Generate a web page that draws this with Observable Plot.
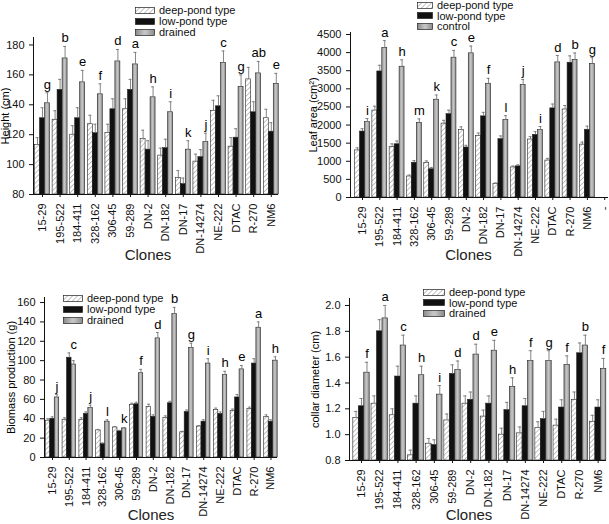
<!DOCTYPE html>
<html><head><meta charset="utf-8">
<script src="https://cdn.jsdelivr.net/npm/d3@7"></script>
<script src="https://cdn.jsdelivr.net/npm/@observablehq/plot@0.6"></script>
<style>
body{margin:0;background:#fff;font-family:"Liberation Sans",Arial,sans-serif;}
#root{position:relative;width:609px;height:524px;overflow:hidden;background:#fff;}
.pl{position:absolute;overflow:visible;}
.lg{position:absolute;font-size:11px;color:#111;white-space:nowrap;display:flex;align-items:center;}
.lg svg{margin-right:4px;overflow:visible;}
</style></head><body>
<svg width="0" height="0" style="position:absolute">
  <defs>
    <pattern id="hatch" width="3.5" height="3.5" patternUnits="userSpaceOnUse" patternTransform="rotate(45)">
      <rect width="3.5" height="3.5" fill="#fff"/>
      <line x1="0" y1="0" x2="0" y2="3.5" stroke="#666" stroke-width="0.8"/>
    </pattern>
    <linearGradient id="grayfill" x1="0" x2="1" y1="0" y2="0">
      <stop offset="0" stop-color="#8a8a8a"/>
      <stop offset="0.45" stop-color="#c4c4c4"/>
      <stop offset="0.55" stop-color="#c4c4c4"/>
      <stop offset="1" stop-color="#8a8a8a"/>
    </linearGradient>
  </defs>
</svg>
<div id="root"></div>
<script>
const clones = ["15-29","195-522","184-411","328-162","306-45","59-289","DN-2","DN-182","DN-17","DN-14274","NE-222","DTAC","R-270","NM6"];
const seriesDrained = ["deep-pond type","low-pond type","drained"];
const seriesControl = ["deep-pond type","low-pond type","control"];

// Height (cm)
const heightDeep    = [113,130,120,127,121,137,117,106,91,102,136,112,157,131];
const heightLow     = [131,150,131,121,137,150,110,111,87,105,139,118,135,122];
const heightDrained = [141,171,155,147,169,167,145,135,110,115,168,152,161,154];
const heightDeepErr    = [5,6,6,6,6,7,6,5,5,5,7,6,8,6];
const heightLowErr     = [7,7,7,6,7,7,6,6,4,5,7,6,7,6];
const heightDrainedErr = [7,8,8,7,8,8,7,7,6,6,8,8,8,7];
const heightLetters = ["g","b","e","f","d","a","h","i","k","j","c","g","ab","e"];

// Leaf area (cm2)
const leafDeep    = [1300,2400,1400,580,950,2040,1860,1700,380,830,1600,1020,2430,1460];
const leafLow     = [1820,3480,1470,960,780,2300,1380,2240,1610,860,1730,2460,3720,1870];
const leafControl = [2080,4130,3610,2060,2700,3860,3980,3140,2140,3110,1860,3730,3800,3690];
const leafDeepErr    = [70,120,80,40,60,90,90,80,20,40,80,60,110,70];
const leafLowErr     = [80,170,90,60,50,110,60,110,90,40,90,120,190,100];
const leafControlErr = [100,200,190,110,130,200,200,150,120,150,100,190,190,170];
const leafLetters = ["i","a","h","m","k","c","e","f","l","j","i","d","b","g"];
const leafExtraTick = ["-"];

// Biomass production (g)
const bioDeep    = [38,39,39,28,31,54,52,41,26,32,49,48,50,42];
const bioLow     = [40,103,45,14,27,55,42,56,47,37,45,62,97,37];
const bioDrained = [62,96,51,37,30,87,123,148,113,97,85,91,134,100];
const bioDeepErr    = [2,2,2,1,1,2,3,2,1,1,2,2,2,2];
const bioLowErr     = [2,5,2,1,1,2,2,2,2,2,2,3,5,2];
const bioDrainedErr = [3,4,3,2,1,4,6,7,5,5,4,4,6,4];
const bioLetters = ["j","c","j","l","k","f","d","b","g","i","h","e","a","h"];

// Collar diameter (cm)
const colDeep    = [1.13,1.24,1.15,0.84,0.93,1.11,1.24,1.14,1.00,1.01,1.05,1.07,1.27,1.10];
const colLow     = [1.22,1.80,1.45,1.24,0.92,1.47,1.27,1.24,1.19,1.22,1.12,1.21,1.63,1.21];
const colDrained = [1.48,1.90,1.69,1.46,1.31,1.50,1.62,1.65,1.37,1.57,1.57,1.54,1.69,1.51];
const colDeepErr    = [0.05,0.06,0.05,0.04,0.04,0.05,0.06,0.05,0.05,0.05,0.05,0.05,0.06,0.05];
const colLowErr     = [0.06,0.09,0.08,0.06,0.04,0.07,0.06,0.06,0.06,0.06,0.06,0.06,0.08,0.06];
const colDrainedErr = [0.08,0.10,0.08,0.07,0.07,0.07,0.08,0.08,0.07,0.08,0.08,0.07,0.08,0.08];
const colLetters = ["f","a","c","h","i","d","d","e","h","f","g","f","b","f"];

const fills = ["url(#hatch)", "#111", "url(#grayfill)"];
const root = document.getElementById("root");

function panel(cfg) {
  const gw = cfg.gw, bw = gw / 3;
  const rows = [];
  cfg.vals.forEach((arr, s) => arr.forEach((v, i) => rows.push({
    i, s, v, e: cfg.errs[s][i],
    x1: i - gw / 2 + s * bw, x2: i - gw / 2 + (s + 1) * bw
  })));
  const letterRows = cfg.letters.map((t, i) => ({
    t, x: i - gw / 2 + 2.5 * bw,
    y: d3.max([0, 1, 2], s => cfg.vals[s][i] + cfg.errs[s][i])
  }));
  const base = cfg.yDomain[0];
  const marks = [];
  fills.forEach((f, s) => marks.push(Plot.rectY(rows.filter(d => d.s === s), {
    x1: "x1", x2: "x2", y1: base, y2: "v", fill: f, stroke: "#222", strokeWidth: 0.6
  })));
  const cx = d => (d.x1 + d.x2) / 2;
  marks.push(Plot.ruleX(rows, {x: cx, y1: "v", y2: d => d.v + d.e, stroke: "#777", strokeWidth: 0.9}));
  marks.push(Plot.ruleY(rows, {y: d => d.v + d.e, x1: d => cx(d) - bw * 0.3, x2: d => cx(d) + bw * 0.3, stroke: "#777", strokeWidth: 0.9}));
  marks.push(Plot.text(letterRows, {x: "x", y: "y", text: "t", dy: -4, lineAnchor: "bottom", fontSize: 13, fill: "black", opacity: 0.99}));
  marks.push(Plot.ruleX([cfg.xDomain[0]], {stroke: "#111"}));
  marks.push(Plot.ruleY([base], {stroke: "#111"}));
  marks.push(Plot.text([cfg.ylabel], {frameAnchor: "left", textAnchor: "middle", lineAnchor: "middle", rotate: -90, dx: cfg.ylDx, fontSize: 11, fill: "black"}));
  marks.push(Plot.text(["Clones"], {frameAnchor: "bottom", textAnchor: "middle", lineAnchor: "middle", dx: cfg.clDx, dy: cfg.clDy, fontSize: 15, fill: "#222", letterSpacing: "0.5px"}));
  const svg = Plot.plot({
    width: cfg.width, height: cfg.height,
    marginLeft: cfg.mL, marginRight: cfg.mR, marginTop: cfg.mT, marginBottom: cfg.mB,
    style: {fontFamily: "Liberation Sans, Arial, sans-serif", fontSize: "11px", background: "transparent", color: "#111", overflow: "visible"},
    x: {type: "linear", domain: cfg.xDomain, ticks: d3.range(cfg.xLabels.length), tickFormat: i => cfg.xLabels[i], tickRotate: -90, tickSize: 3, label: null},
    y: {domain: cfg.yDomain, ticks: cfg.yTicks, tickFormat: cfg.yFormat, tickSize: 4, label: null},
    marks
  });
  svg.classList.add("pl");
  svg.style.left = cfg.left + "px";
  svg.style.top = cfg.top + "px";
  root.appendChild(svg);
}

function legend(x, y0, rowH, swW, swH, labels) {
  labels.forEach((lab, s) => {
    const div = document.createElement("div");
    div.className = "lg";
    div.style.left = x + "px";
    div.style.top = (y0 + s * rowH - 7) + "px";
    div.style.height = "14px";
    div.innerHTML = `<svg width="${swW}" height="${swH}"><rect x="0.5" y="0.5" width="${swW - 1}" height="${swH - 1}" fill="${fills[s]}" stroke="#222" stroke-width="0.7"/></svg><span>${lab}</span>`;
    root.appendChild(div);
  });
}

panel({left: 0, top: 0, width: 300, height: 262, mL: 33, mR: 22, mT: 37, mB: 68,
  xDomain: [-0.511, 13.41], xLabels: clones, gw: 0.85,
  yDomain: [80, 185], yTicks: d3.range(80, 181, 20), yFormat: d3.format("d"),
  vals: [heightDeep, heightLow, heightDrained], errs: [heightDeepErr, heightLowErr, heightDrainedErr],
  letters: heightLetters, ylabel: "Height (cm)", ylDx: -28, clDx: -8, clDy: 61});

panel({left: 305, top: 0, width: 304, height: 262, mL: 45, mR: 1, mT: 32, mB: 65,
  xDomain: [-0.694, 14.22], xLabels: clones.concat(leafExtraTick), gw: 0.86,
  yDomain: [0, 4555], yTicks: d3.range(0, 4501, 500), yFormat: d3.format("d"),
  vals: [leafDeep, leafLow, leafControl], errs: [leafDeepErr, leafLowErr, leafControlErr],
  letters: leafLetters, ylabel: "Leaf area (cm²)", ylDx: -37, clDx: -11, clDy: 58});

panel({left: 0, top: 262, width: 300, height: 262, mL: 44, mR: 23, mT: 35, mB: 67,
  xDomain: [-0.476, 13.39], xLabels: clones, gw: 0.8,
  yDomain: [0, 165.2], yTicks: d3.range(0, 161, 20), yFormat: d3.format("d"),
  vals: [bioDeep, bioLow, bioDrained], errs: [bioDeepErr, bioLowErr, bioDrainedErr],
  letters: bioLetters, ylabel: "Biomass production (g)", ylDx: -33, clDx: -10, clDy: 58});

panel({left: 305, top: 262, width: 304, height: 262, mL: 44, mR: 3, mT: 36, mB: 64,
  xDomain: [-0.66, 13.46], xLabels: clones, gw: 0.9,
  yDomain: [0.8, 2.054], yTicks: d3.range(0.8, 2.01, 0.2), yFormat: d3.format(".1f"),
  vals: [colDeep, colLow, colDrained], errs: [colDeepErr, colLowErr, colDrainedErr],
  letters: colLetters, ylabel: "collar diameter (cm)", ylDx: -34, clDx: -9, clDy: 55});

legend(135, 10, 11, 20, 7, seriesDrained);
legend(417, 5, 10.5, 16, 7, seriesControl);
legend(63, 298, 11, 20, 7, seriesDrained);
legend(423, 292, 10.5, 22, 7, seriesDrained);
</script>
</body></html>
